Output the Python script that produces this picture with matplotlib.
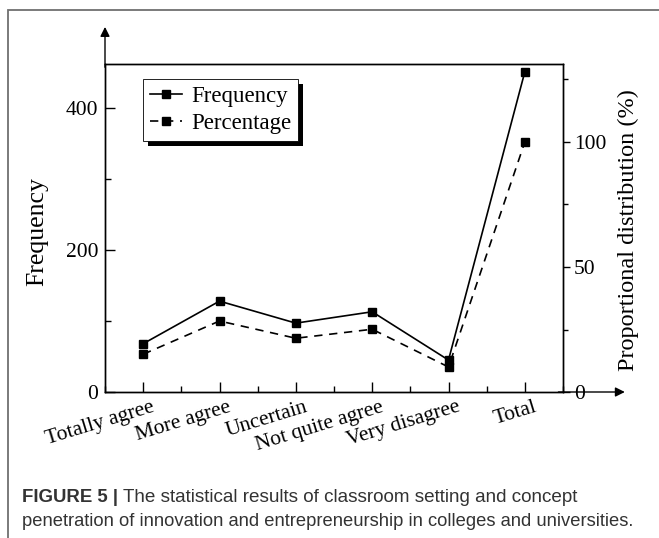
import matplotlib
matplotlib.use("Agg")
import matplotlib.pyplot as plt
from matplotlib.patches import Rectangle
from matplotlib.ticker import MultipleLocator
from matplotlib.transforms import ScaledTranslation

# data
categories = ["Totally agree", "More agree", "Uncertain", "Not quite agree", "Very disagree", "Total"]
frequency = [68, 128, 97, 113, 45, 451]
percentage = [15.1, 28.4, 21.5, 25.1, 10.0, 100.0]

plt.rcParams["font.family"] = ["Liberation Serif", "DejaVu Serif"]

W, H = 659, 538
fig = plt.figure(figsize=(W / 100, H / 100), dpi=100)

# axes box in pixels: left 105, right 563, top 64, bottom 392
ax = fig.add_axes([105 / W, 1 - 392 / H, (563 - 105) / W, (392 - 64) / H])
ax2 = ax.twinx()

x = list(range(len(categories)))
ax.plot(x, frequency, "-", color="k", lw=1.2, marker="s", ms=6, label="Frequency")
ax2.plot(x, percentage, "--", color="k", lw=1.2, dashes=(5, 4), marker="s", ms=6, label="Percentage")

ax.set_xlim(-0.5, 5.5)
ax.set_ylim(0, 462)
ax2.set_ylim(0, 131.2)

ax.set_xticks(x)
ax.set_xticklabels(categories, rotation=17, ha="right", rotation_mode="anchor", fontsize=15.5)
ax.xaxis.set_minor_locator(MultipleLocator(0.5))
ax.yaxis.set_major_locator(MultipleLocator(200))
ax.yaxis.set_minor_locator(MultipleLocator(100))
ax2.yaxis.set_major_locator(MultipleLocator(50))
ax2.yaxis.set_minor_locator(MultipleLocator(25))

ax.tick_params(axis="both", which="major", direction="in", length=7, width=1.0, labelsize=15.5, pad=5)
ax.tick_params(axis="both", which="minor", direction="in", length=4.5, width=1.0)
ax.tick_params(axis="x", which="major", pad=4)
ax2.tick_params(axis="y", which="major", direction="out", length=5, width=1.0, labelsize=15.5, pad=3)
ax2.tick_params(axis="y", which="minor", direction="out", length=3.5, width=1.0)

for lbl in ax.get_xticklabels():
    lbl.set_transform(lbl.get_transform() + ScaledTranslation(6 / 72, 0, fig.dpi_scale_trans))

for a in (ax, ax2):
    for s in a.spines.values():
        s.set_linewidth(1.0)

# axis arrows
ax.annotate("", xy=(0, 1.113), xytext=(0, 0.99), xycoords="axes fraction",
            arrowprops=dict(arrowstyle="-|>", color="k", lw=1.0, mutation_scale=14,
                            shrinkA=0, shrinkB=0), annotation_clip=False)
ax.annotate("", xy=(1.135, 0), xytext=(0.99, 0), xycoords="axes fraction",
            arrowprops=dict(arrowstyle="-|>", color="k", lw=1.0, mutation_scale=14,
                            shrinkA=0, shrinkB=0), annotation_clip=False)

fig.text(37 / W, 1 - 232 / H, "Frequency", rotation=90, ha="center", va="center", fontsize=18.5)
fig.text(628 / W, 1 - 230 / H, "Proportional distribution (%)", rotation=90,
         ha="center", va="center", fontsize=17.5)

# legend with hard black shadow
h1, l1 = ax.get_legend_handles_labels()
h2, l2 = ax2.get_legend_handles_labels()
leg = ax2.legend(h1 + h2, l1 + l2, loc="upper left", bbox_to_anchor=(0.083, 0.954),
                 borderaxespad=0, fancybox=False, frameon=True, framealpha=1, fontsize=16.5,
                 handlelength=1.4, handletextpad=0.4, borderpad=0.3, labelspacing=0.25)
leg.get_frame().set_edgecolor("k")
leg.get_frame().set_facecolor("white")
leg.get_frame().set_linewidth(0.6)
leg.set_zorder(10)

# outer frame and caption
fig.add_artist(Rectangle((8 / W, -0.2), 1.0, 1.2 - 10 / H, transform=fig.transFigure,
                         fill=False, edgecolor="#707070", lw=1.3))

cap_font = ["Liberation Sans", "DejaVu Sans"]
t1 = fig.text(22 / W, 1 - 497 / H, "FIGURE 5 |", fontsize=13.4, fontweight="bold",
              family=cap_font, color="#333333", va="center")
fig.text(22 / W, 1 - 522 / H,
         "penetration of innovation and entrepreneurship in colleges and universities.",
         fontsize=13.2, family=cap_font, color="#333333", va="center")

fig.canvas.draw()
r = fig.canvas.get_renderer()
bb = t1.get_window_extent(r)
fig.text(bb.x1 / W + 5 / W, 1 - 497 / H,
         "The statistical results of classroom setting and concept",
         fontsize=13.6, family=cap_font, color="#333333", va="center")

lb = leg.get_frame().get_window_extent(r).transformed(ax2.transAxes.inverted())
ax2.add_patch(Rectangle((lb.x0 + 5 / 458, lb.y0 - 5 / 328), lb.width, lb.height,
                        transform=ax2.transAxes, facecolor="k", edgecolor="none",
                        zorder=9, clip_on=False))

fig.savefig("out.png", dpi=100)
